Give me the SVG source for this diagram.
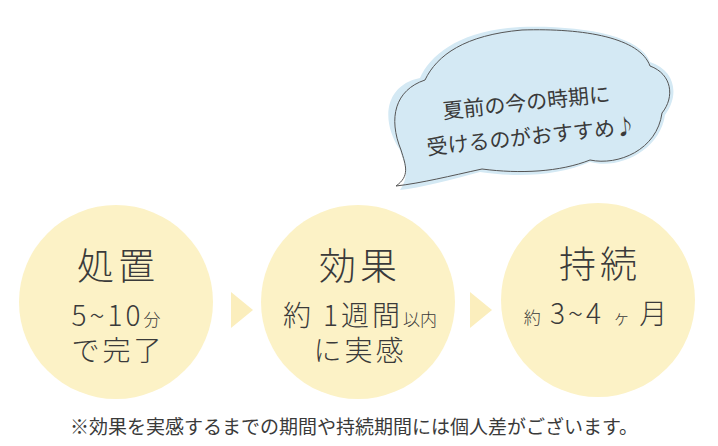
<svg xmlns="http://www.w3.org/2000/svg" width="718" height="446" viewBox="0 0 718 446">
<style>
.c{fill:#fcf2c6}
.t{fill:#fbeebd}
text{font-family:"Noto Sans CJK JP","Noto Sans",sans-serif;fill:#3a3a3a;text-anchor:middle;font-weight:300}
.h{font-size:37px;letter-spacing:4px}
.s{font-size:28px;letter-spacing:3px}
.m{font-size:17px;letter-spacing:0}
</style>
<rect width="718" height="446" fill="#fff"/>
<g id="cloud">
<path d="M400,190 C410,175 405,165 400,150 C380,120 385,85 420,78 C430,55 460,30 520,27 C580,25 640,35 650,62 C675,70 680,95 665,115 C660,150 620,170 590,162 C560,175 520,178 480,172 C450,180 420,188 400,190 Z" fill="#d4e9f4"/>
<path d="M396,186 C410,176 406,166 401,150 C388,118 395,90 425,80 C437,55 465,35 522,30 C585,28 640,38 650,66 C672,74 675,97 662,113 C657,150 618,166 590,160 C560,172 520,174 482,169 C450,176 422,183 396,186 Z" fill="none" stroke="#555" stroke-width="1"/>
<text x="527" y="110" transform="rotate(-6 527 110)" style="font-size:21px;font-weight:400">夏前の今の時期に</text>
<text x="532" y="144" transform="rotate(-6 532 144)" style="font-size:21px;font-weight:400">受けるのがおすすめ♪</text>
</g>
<g id="node1">
<circle class="c" cx="116" cy="302" r="97"/>
<text class="h" x="118" y="280">処置</text>
<text class="s" x="116" y="326">5~10<tspan class="m">分</tspan></text>
<text class="s" x="118" y="361">で完了</text>
</g>
<g id="node2">
<circle class="c" cx="358" cy="302" r="97"/>
<text class="h" x="360" y="280">効果</text>
<text class="s" x="360" y="326">約 1週間<tspan class="m">以内</tspan></text>
<text class="s" x="360" y="361">に実感</text>
</g>
<g id="node3">
<circle class="c" cx="598" cy="300" r="97"/>
<text class="h" x="600" y="278">持続</text>
<text class="s" x="597" y="324"><tspan class="m">約</tspan> 3~4 <tspan class="m">ヶ</tspan> 月</text>
</g>
<g id="connectors">
<polygon class="t" points="231,292 253,310 231,328"/>
<polygon class="t" points="470,292 492,310 470,328"/>
</g>
<text x="354" y="434" style="font-size:19px;font-weight:400">※効果を実感するまでの期間や持続期間には個人差がございます。</text>
</svg>
